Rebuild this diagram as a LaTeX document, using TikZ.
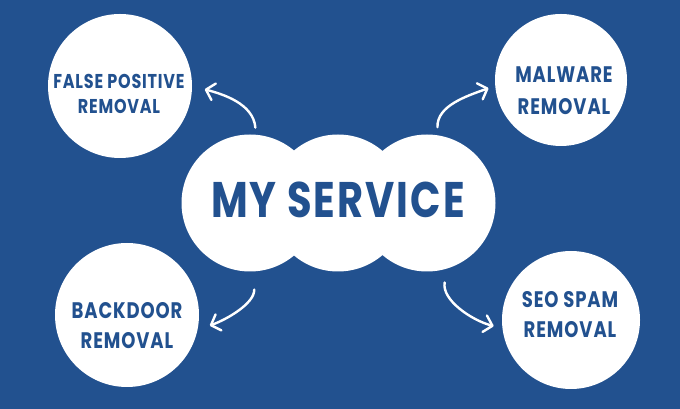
\documentclass[tikz,border=0pt]{standalone}
\usepackage{fontspec}
\setmainfont{Poppins}[FakeStretch=0.8, LetterSpace=4]
\usetikzlibrary{arrows.meta}
\definecolor{bgblue}{HTML}{22518F}
\tikzstyle{bubble} = [circle, fill=white, inner sep=0pt]
\tikzstyle{bubbletext} = [text=bgblue, align=center, font=\bfseries, inner sep=0pt]
\tikzstyle{arrow} = [white, line width=2.4pt, line cap=round, -{Straight Barb[length=8pt,width=17pt,round]}]

\begin{document}
\begin{tikzpicture}[x=1pt, y=1pt]

% Background
\fill[bgblue] (0,0) rectangle (680,409);

% Centre cloud
\node (cloudL) [bubble, minimum size=137pt] at (250,206) {};
\node (cloudM) [bubble, minimum size=137pt] at (338,206) {};
\node (cloudR) [bubble, minimum size=137pt] at (427,206) {};
\node (service) [bubbletext, font=\bfseries\fontsize{50}{50}\selectfont] at (338,209) {MY SERVICE};

% Outer circles
\node (falsePos) [bubble, minimum size=144pt] at (120,323) {};
\node (malware) [bubble, minimum size=132pt] at (561,329) {};
\node (backdoor) [bubble, minimum size=144pt] at (127,94) {};
\node (seoSpam) [bubble, minimum size=138pt] at (571,89) {};

% Labels
\node (falsePosText) [bubbletext, font=\bfseries\fontsize{20}{25}\selectfont] at (119,315) {FALSE POSITIVE\\REMOVAL};
\node (malwareText) [bubbletext, font=\bfseries\fontsize{22.5}{32}\selectfont] at (564,318) {MALWARE\\REMOVAL};
\node (backdoorText) [bubbletext, font=\bfseries\fontsize{22.5}{30}\selectfont] at (127,83.5) {BACKDOOR\\REMOVAL};
\node (seoSpamText) [bubbletext, font=\bfseries\fontsize{22.5}{30}\selectfont] at (570,94.5) {SEO SPAM\\REMOVAL};

% Arrows
\draw [arrow, shorten <=7pt, shorten >=13pt] (cloudL.85) to[out=95, in=-15] (falsePos.0);
\draw [arrow, shorten <=8pt, shorten >=7pt] (cloudR.81) to[out=92, in=200] (malware.185);
\draw [arrow, shorten <=18pt, shorten >=13pt] (cloudL.-87) to[out=-88, in=20] (backdoor.-12);
\draw [arrow, shorten <=14pt, shorten >=9pt] (cloudR.-73) to[out=-100, in=165] (seoSpam.187);

\end{tikzpicture}
\end{document}
